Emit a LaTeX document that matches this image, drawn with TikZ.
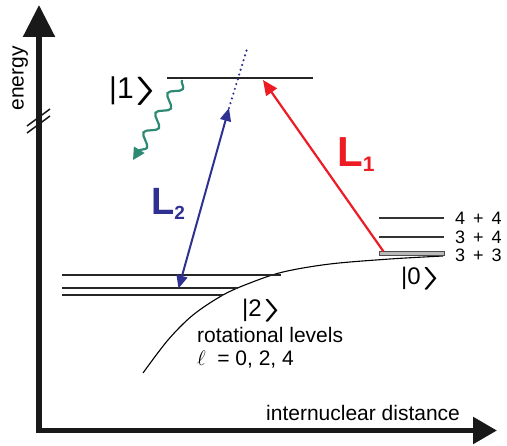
\RequirePackage{fix-cm}
\documentclass[tikz,border=0pt]{standalone}
\usepackage{fontspec}
\setmainfont{Liberation Sans}
\usetikzlibrary{arrows.meta,decorations.pathmorphing}
\definecolor{lred}{HTML}{ED1C24}
\definecolor{lblue}{HTML}{2E3192}
\definecolor{lgreen}{HTML}{2F8A74}
\newcommand{\widesp}{\spaceskip=8pt\relax}
\newcommand{\ketr}{\hspace{1pt}\scalebox{1.9}[0.95]{\boldmath$\rangle$}}
\begin{document}
\begin{tikzpicture}[x=1pt,y=-1pt,
  lvl/.style={line width=1.7pt, black!85},
  thinlvl/.style={line width=1.2pt, black!80},
  lab/.style={inner sep=0pt, anchor=base west},
  txt/.style={lab, font=\fontsize{21}{25}\selectfont},
  ket/.style={lab, font=\fontsize{24}{28}\selectfont},
  small/.style={lab, font={\fontsize{18}{21}\selectfont\widesp}}
]
\useasboundingbox (0,0) rectangle (507,446);
% axes
\coordinate (top) at (39,5);
\coordinate (corner) at (39,430.5);
\coordinate (right) at (497,430.5);
\draw[line width=5.5pt, black!90, {Triangle[length=32pt,width=31pt]}-{Triangle[length=24pt,width=26pt]}] (top) -- (corner) -- (right);
\draw[line width=1.5pt, black!90] (27,126) -- (50,109) (27,133) -- (50,116);
\node[txt, anchor=base, rotate=90] (en) at (23.5,78.5) {energy};
\node[txt] (ind) at (266,421) {internuclear distance};
% potential curve
\draw[line width=1.1pt] plot[smooth, tension=0.55] coordinates {(143,373) (168,340) (193,315) (223,295) (250,283) (283,272) (330,264) (390,259) (443,256)};
% excited level
\coordinate (e1a) at (167,78); \coordinate (e1b) at (313,78);
\draw[lvl] (e1a) -- (e1b);
\node[lab, font=\fontsize{30}{34}\selectfont] (k1) at (109,99) {|1\ketr};
% lower levels
\draw[lvl] (62,275) -- (281,275);
\draw[lvl] (62,288) -- (238,288);
\draw[lvl] (62,295) -- (223,295);
\node[ket] (k2) at (242,317) {|2\ketr};
\node[txt] (rot) at (197,343) {rotational levels};
\node[txt] (ell) at (197,366) {$\ell$\hspace{0.55em}= 0, 2, 4};
% right levels
\draw[thinlvl] (379,218) -- (444,218);
\draw[thinlvl] (379,237) -- (444,237);
\draw[fill=gray!55, draw=black!70, line width=0.8pt] (379,251) rectangle (444,255.5);
\node[small] (l44) at (455,225) {4 + 4};
\node[small] (l34) at (455,243.5) {3 + 4};
\node[small] (l33) at (455,262) {3 + 3};
\node[ket] (k0) at (401,285) {|0\ketr};
% red L1
\coordinate (r0) at (383.5,251.5); \coordinate (r1) at (263,80);
\draw[lred, line width=2.2pt, -{Triangle[length=15pt,width=13pt]}] (r0) -- (r1);
\node[lab, text=lred, font=\fontsize{42}{46}\selectfont\bfseries] (L1) at (337,167) {L\raisebox{-5pt}{\fontsize{21}{24}\selectfont 1}};
% blue L2
\coordinate (b0) at (178.5,288.5); \coordinate (b1) at (229,108); \coordinate (b2) at (247,49);
\draw[lblue, line width=2pt, {Triangle[length=13pt,width=11pt]}-{Triangle[length=13pt,width=11pt]}] (b0) -- (b1);
\draw[lblue, line width=2.4pt, line cap=round, dash pattern=on 0pt off 5pt] (b1) -- (b2);
\node[lab, text=lblue, font=\fontsize{38}{42}\selectfont\bfseries] (L2) at (151,215) {L\raisebox{-5pt}{\fontsize{19}{22}\selectfont 2}};
% green wavy
\coordinate (g0) at (182,80); \coordinate (g1) at (133,160);
\draw[lgreen, line width=2.2pt, decorate, decoration={snake, amplitude=5.5pt, segment length=23pt, post length=9pt}, -{Triangle[length=12pt,width=12pt]}] (g0) -- (g1);
\end{tikzpicture}
\end{document}
